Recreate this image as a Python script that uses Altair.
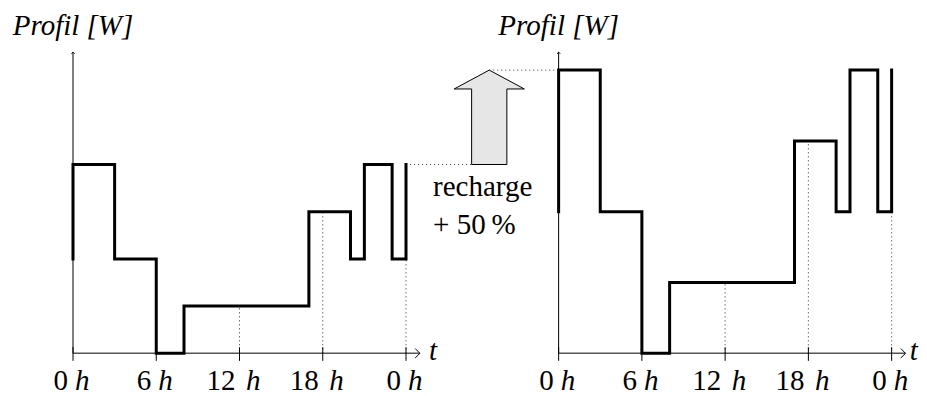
import altair as alt
import pandas as pd

# ---------------- data ----------------
break_hours = [0, 3, 6, 8, 17, 20, 21, 23, 24]     # segment boundaries [h]
base_levels = [4, 2, 0, 1, 3, 2, 4, 2]              # profile level per segment
start_level = 2                                     # value before t = 0
end_level = 4                                       # value after t = 24
recharge_factor = 1.5                               # + 50 %
tick_hours = [0, 6, 12, 18, 24]
tick_numbers = ["0", "6", "12", "18", "0"]
guide_hours = [12, 18, 24]
title_text = "Profil [W]"
axis_name = "t"
note_lines = ["recharge", "+ 50\u2009%"]

# ---------------- layout constants ----------------
W, H = 911, 388
PX_H = 13.875          # px per hour
PX_U = 47.2            # px per level unit
X0 = 65.0              # px of left-panel origin inside the plot area
Y0 = 345.3             # px of baseline inside the plot area
OFFSET = 35.0          # hours between the two panel origins
X_DOM = [-X0 / PX_H, (W - X0) / PX_H]
Y_DOM = [-(H - Y0) / PX_U, Y0 / PX_U]
AXIS_X_END = 25.0
AXIS_Y_END = 6.38
LABEL_Y = -0.77
FONT = "Liberation Serif"
FS = 29

xs = alt.Scale(domain=X_DOM, nice=False, zero=False)
ys = alt.Scale(domain=Y_DOM, nice=False, zero=False)


def X(f="x"):
    return alt.X(f"{f}:Q", scale=xs, axis=None)


def Y(f="y"):
    return alt.Y(f"{f}:Q", scale=ys, axis=None)


def level_at(h, levels):
    for i in range(len(levels)):
        if break_hours[i] <= h < break_hours[i + 1]:
            return levels[i]
    return levels[-1]


panels = [
    {"name": "base", "dx": 0.0, "levels": base_levels, "start": start_level, "end": end_level,
     "tpos": 25.66},
    {"name": "recharged", "dx": OFFSET,
     "levels": [v * recharge_factor for v in base_levels],
     "start": start_level * recharge_factor, "end": end_level * recharge_factor,
     "tpos": 25.3},
]

# step profile vertices
rows = []
for p in panels:
    pts = [(break_hours[0], p["start"])]
    for i, lv in enumerate(p["levels"]):
        pts.append((break_hours[i], lv))
        pts.append((break_hours[i + 1], lv))
    pts.append((break_hours[-1], p["end"]))
    for k, (h, v) in enumerate(pts):
        rows.append({"x": h + p["dx"], "y": v, "panel": p["name"], "o": k})
steps = pd.DataFrame(rows)

# dotted guides under the curve
guides = pd.DataFrame([
    {"x": h + p["dx"], "y": 0, "y2": level_at(h, p["levels"])}
    for p in panels for h in guide_hours
])

# axes
xaxis = pd.DataFrame([{"x": p["dx"], "x2": p["dx"] + AXIS_X_END, "y": 0} for p in panels])
yaxis = pd.DataFrame([{"x": p["dx"], "y": 0, "y2": AXIS_Y_END} for p in panels])
xhead = pd.DataFrame([{"x": p["dx"] + AXIS_X_END, "y": 0} for p in panels])
yhead = pd.DataFrame([{"x": p["dx"], "y": AXIS_Y_END} for p in panels])
ticks = pd.DataFrame([{"x": h + p["dx"], "y": -0.16, "y2": 0.13} for p in panels for h in tick_hours])
labels = pd.DataFrame([
    {"x": h + p["dx"], "y": LABEL_Y, "num": n, "two": len(n) > 1}
    for p in panels for h, n in zip(tick_hours, tick_numbers)
])
tlab = pd.DataFrame([{"x": p["dx"] + p["tpos"], "y": -0.14, "txt": axis_name} for p in panels])
titles = pd.DataFrame([{"x": p["dx"], "y": 6.75, "txt": title_text} for p in panels])

# recharge arrow
top_left = base_levels[0]
top_right = base_levels[0] * recharge_factor
AX = 30.0
BODY = 1.27
HEAD = 2.53
HEAD_Y = 5.6
arrow_outline = pd.DataFrame(
    [
        (AX - BODY, top_left), (AX - BODY, HEAD_Y), (AX - HEAD, HEAD_Y), (AX, top_right),
        (AX + HEAD, HEAD_Y), (AX + BODY, HEAD_Y), (AX + BODY, top_left), (AX - BODY, top_left),
    ],
    columns=["x", "y"],
).reset_index().rename(columns={"index": "o"})
arrow_body = pd.DataFrame([{"x": AX - BODY, "x2": AX + BODY, "y": top_left, "y2": HEAD_Y}])
arrow_head = pd.DataFrame([
    {"x": AX - HEAD, "y": HEAD_Y, "y2": HEAD_Y},
    {"x": AX, "y": top_right, "y2": HEAD_Y},
    {"x": AX + HEAD, "y": HEAD_Y, "y2": HEAD_Y},
])
connectors = pd.DataFrame([
    {"x": break_hours[-1], "x2": AX - BODY, "y": top_left},
    {"x": AX, "x2": OFFSET, "y": top_right},
])
notes = pd.DataFrame([
    {"x": 25.95, "y": 3.33, "txt": note_lines[0]},
    {"x": 25.95, "y": 2.53, "txt": note_lines[1]},
])

DOT = dict(stroke="#333333", strokeWidth=1, strokeDash=[1, 3])

layers = [
    alt.Chart(arrow_body).mark_rect(fill="#e6e6e6", stroke=None).encode(x=X(), x2="x2:Q", y=Y(), y2="y2:Q"),
    alt.Chart(arrow_head).mark_area(fill="#e6e6e6", opacity=1).encode(x=X(), y=Y(), y2="y2:Q"),
    alt.Chart(arrow_outline).mark_line(color="black", strokeWidth=1, strokeJoin="miter").encode(
        x=X(), y=Y(), order="o:Q"),
    alt.Chart(connectors).mark_rule(**DOT).encode(x=X(), x2="x2:Q", y=Y()),
    alt.Chart(guides).mark_rule(**DOT).encode(x=X(), y=Y(), y2="y2:Q"),
    alt.Chart(xaxis).mark_rule(stroke="#555555", strokeWidth=1.6).encode(x=X(), x2="x2:Q", y=Y()),
    alt.Chart(yaxis).mark_rule(stroke="black", strokeWidth=1).encode(x=X(), y=Y(), y2="y2:Q"),
    alt.Chart(ticks).mark_rule(stroke="black", strokeWidth=1).encode(x=X(), y=Y(), y2="y2:Q"),
    alt.Chart(xhead).mark_point(shape="M-1,-1L0,0L-1,1", filled=False, size=90, color="black",
                                strokeWidth=1, opacity=1).encode(x=X(), y=Y()),
    alt.Chart(yhead).mark_point(shape="M-1,1L0,0L1,1", filled=False, size=10, color="black",
                                strokeWidth=1, opacity=1).encode(x=X(), y=Y()),
    alt.Chart(steps).mark_line(color="black", strokeWidth=3, strokeJoin="miter", strokeCap="square").encode(
        x=X(), y=Y(), detail="panel:N", order="o:Q"),
    alt.Chart(labels).transform_filter("!datum.two").mark_text(
        align="right", baseline="alphabetic", dx=-5, font=FONT, fontSize=FS, color="black").encode(
        x=X(), y=Y(), text="num:N"),
    alt.Chart(labels).transform_filter("datum.two").mark_text(
        align="right", baseline="alphabetic", dx=-4, font=FONT, fontSize=FS, color="black").encode(
        x=X(), y=Y(), text="num:N"),
    alt.Chart(labels).transform_filter("!datum.two").mark_text(
        align="left", baseline="alphabetic", dx=2, font=FONT, fontSize=FS, fontStyle="italic",
        color="black").encode(x=X(), y=Y(), text=alt.value("h")),
    alt.Chart(labels).transform_filter("datum.two").mark_text(
        align="left", baseline="alphabetic", dx=6.5, font=FONT, fontSize=FS, fontStyle="italic",
        color="black").encode(x=X(), y=Y(), text=alt.value("h")),
    alt.Chart(tlab).mark_text(align="left", baseline="alphabetic", font=FONT, fontSize=FS,
                              fontStyle="italic", color="black").encode(x=X(), y=Y(), text="txt:N"),
    alt.Chart(titles).mark_text(align="center", baseline="alphabetic", font=FONT, fontSize=FS,
                                fontStyle="italic", color="black").encode(x=X(), y=Y(), text="txt:N"),
    alt.Chart(notes).mark_text(align="left", baseline="alphabetic", font=FONT, fontSize=FS,
                               color="black").encode(x=X(), y=Y(), text="txt:N"),
]

chart = alt.layer(*layers).properties(
    width=W, height=H, autosize=alt.AutoSizeParams(type="none"), padding=0,
    background="white",
).configure_view(stroke=None)

chart.save("out.html", embed_options={"renderer": "svg", "actions": False})
